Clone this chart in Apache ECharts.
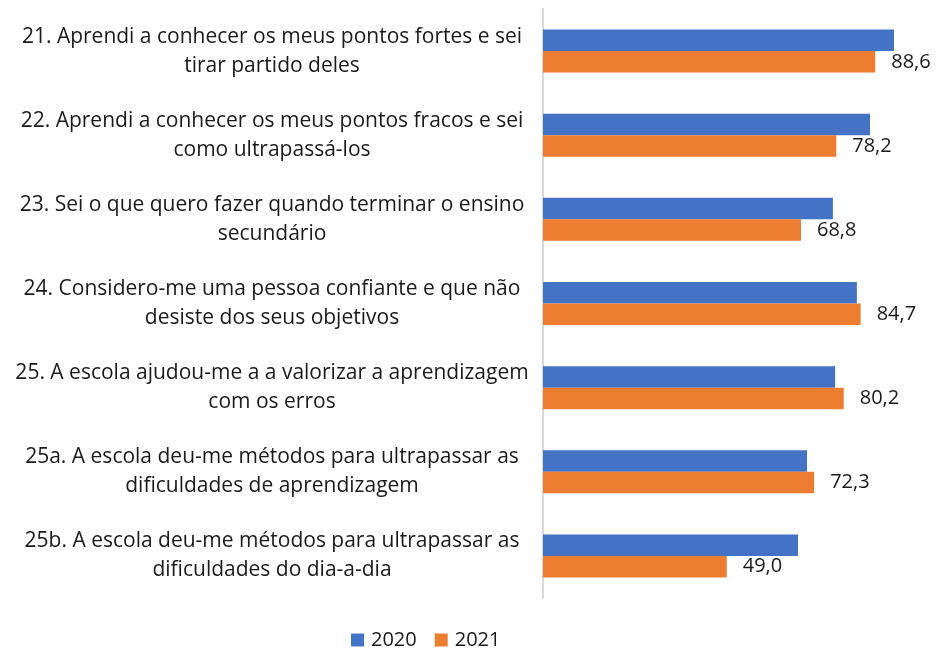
<!DOCTYPE html>
<html>
<head>
<meta charset="utf-8">
<script src="https://cdn.jsdelivr.net/npm/echarts@6/dist/echarts.min.js"></script>
<style>
  html, body { margin: 0; padding: 0; background: #fff; }
  #chart { width: 937px; height: 648px; }
</style>
</head>
<body>
<div id="chart"></div>
<script>
// categories (top to bottom)
const categories = [
    '21. Aprendi a conhecer os meus pontos fortes e sei\ntirar partido deles',
    '22. Aprendi a conhecer os meus pontos fracos e sei\ncomo ultrapassá-los',
    '23. Sei o que quero fazer quando terminar o ensino\nsecundário',
    '24. Considero-me uma pessoa confiante e que não\ndesiste dos seus objetivos',
    '25. A escola ajudou-me a a valorizar a aprendizagem\ncom os erros',
    '25a. A escola deu-me métodos para ultrapassar as\ndificuldades de aprendizagem',
    '25b. A escola deu-me métodos para ultrapassar as\ndificuldades do dia-a-dia'
];
const values2020 = [93.6, 87.2, 77.3, 83.7, 77.9, 70.4, 68.0];
const values2021 = [88.6, 78.2, 68.8, 84.7, 80.2, 72.3, 49.0];
const seriesNames = ['2020', '2021'];

const chart = echarts.init(document.getElementById('chart'));
const font = '"Open Sans", Lato, sans-serif';

const option = {
    animation: false,
    textStyle: { fontFamily: font },
    grid: { left: 543, top: 9, width: 375, height: 589 },
    legend: {
        data: seriesNames,
        left: 346,
        top: 625,
        itemWidth: 13,
        itemHeight: 13,
        itemGap: 18,
        icon: 'rect',
        textStyle: { fontSize: 20, color: '#1a1a1a', fontFamily: font, padding: [0, 0, 0, 2] }
    },
    xAxis: {
        type: 'value',
        min: 0,
        max: 100,
        show: false
    },
    yAxis: {
        type: 'category',
        data: categories,
        inverse: true,
        axisTick: { show: false },
        axisLine: { show: true, lineStyle: { color: '#d9d9d9', width: 2 } },
        axisLabel: {
            align: 'center',
            margin: 271,
            fontSize: 21,
            lineHeight: 29,
            color: '#1a1a1a',
            fontFamily: font
        }
    },
    series: [
        {
            name: seriesNames[0],
            type: 'bar',
            data: values2020,
            barWidth: 21.5,
            barGap: '0%',
            itemStyle: { color: '#4472C4' }
        },
        {
            name: seriesNames[1],
            type: 'bar',
            data: values2021,
            barWidth: 21.5,
            barGap: '0%',
            itemStyle: { color: '#ED7D31' },
            label: {
                show: true,
                position: 'right',
                distance: 16,
                fontSize: 20,
                color: '#1a1a1a',
                fontFamily: font,
                formatter: p => p.value.toFixed(1).replace('.', ',')
            }
        }
    ]
};

chart.setOption(option);
window.addEventListener('resize', () => chart.resize());
</script>
</body>
</html>
